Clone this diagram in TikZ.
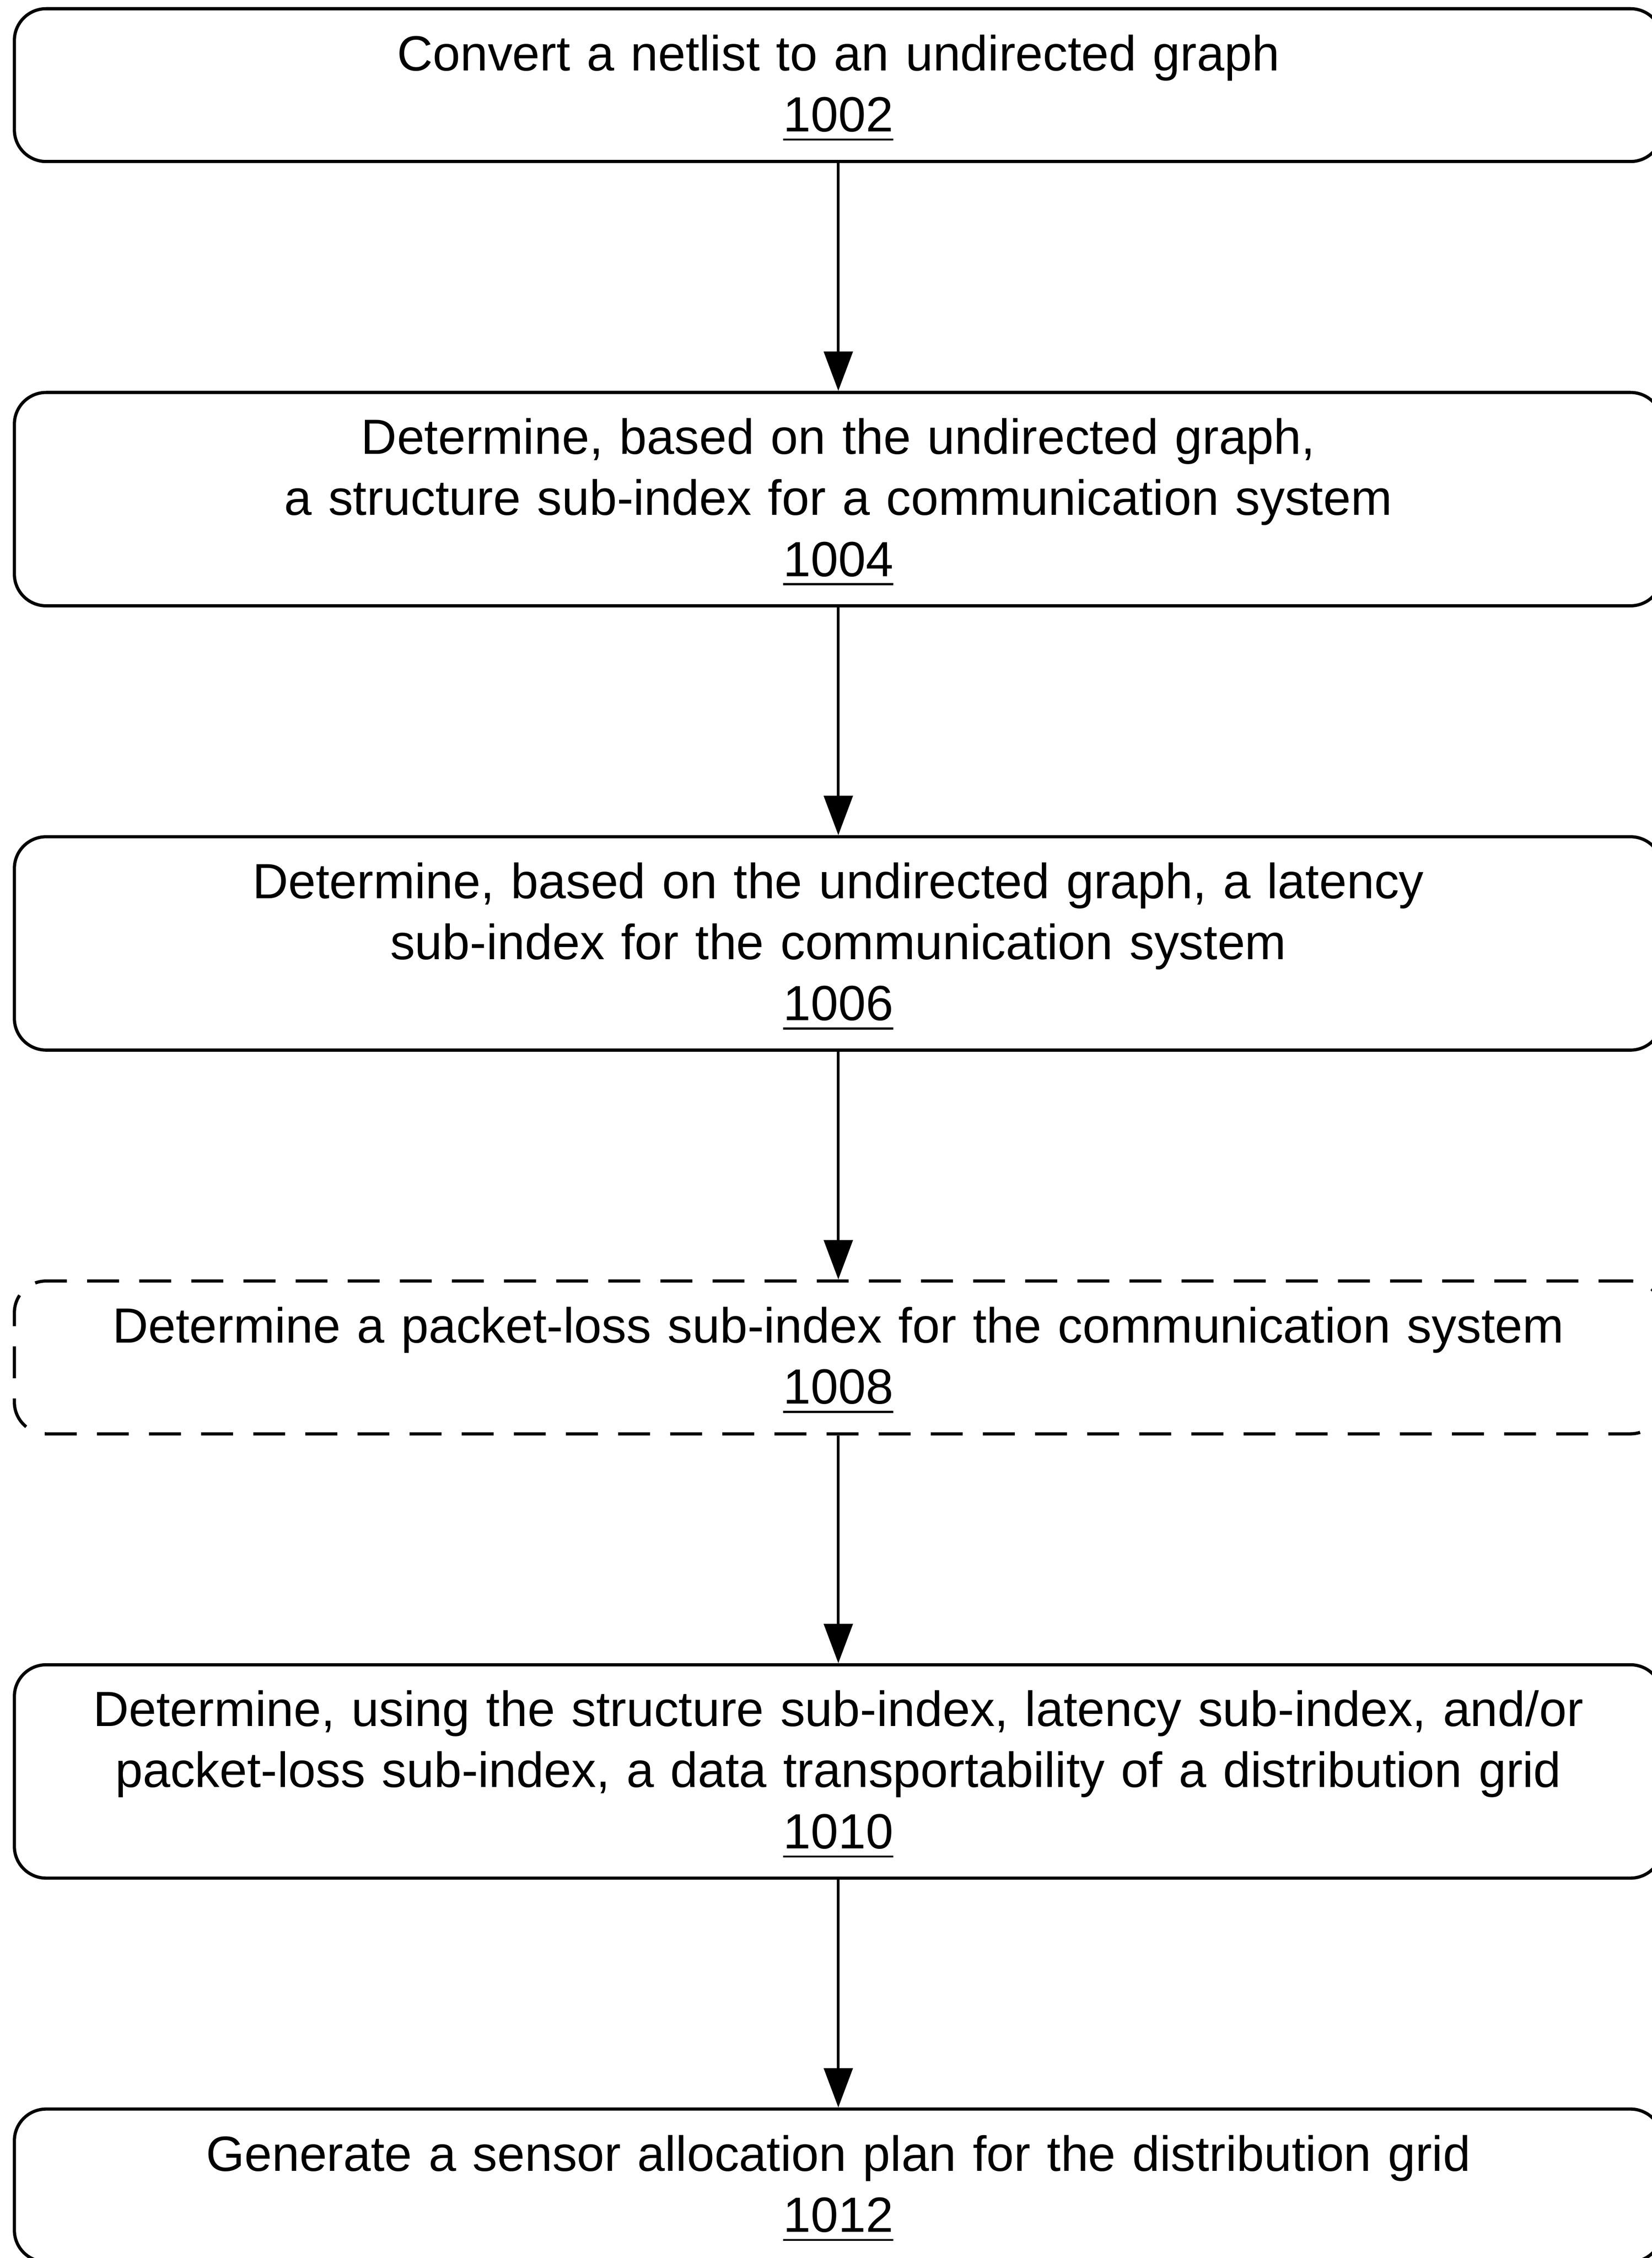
\documentclass[tikz,border=0pt]{standalone}
\usepackage{fontspec}
\setmainfont{Liberation Sans}
\usetikzlibrary{positioning,arrows.meta}

\tikzset{
	stepbox/.style={draw, line width=0.6pt, rounded corners=0.21cm, minimum width=10.89cm, text width=10.5cm, align=center, inner sep=0pt, text height=8.1pt, font=\fontsize{9.3}{11.5}\selectfont},
	shortbox/.style={stepbox, minimum height=1.01cm},
	tallbox/.style={stepbox, minimum height=1.41cm},
	optbox/.style={shortbox, dash pattern=on 6pt off 3.8pt},
	flow/.style={line width=0.5pt, -{Triangle[width=0.19cm,length=0.26cm]}}
}

\begin{document}
\begin{tikzpicture}
	\useasboundingbox (0,0) rectangle (10.915,-14.9225);
	\node [shortbox] (convert) at (5.54,-0.5625) {Convert a netlist to an undirected graph\\\underline{1002}};
	\node [tallbox, below=1.505cm of convert] (structure) {Determine, based on the undirected graph,\\a structure sub-index for a communication system\\\underline{1004}};
	\node [tallbox, below=1.505cm of structure] (latency) {Determine, based on the undirected graph, a latency\\sub-index for the communication system\\\underline{1006}};
	\node [optbox, below=1.505cm of latency] (packetloss) {Determine a packet-loss sub-index for the communication system\\\underline{1008}};
	\node [tallbox, below=1.505cm of packetloss] (transport) {Determine, using the structure sub-index, latency sub-index, and/or\\packet-loss sub-index, a data transportability of a distribution grid\\\underline{1010}};
	\node [shortbox, below=1.505cm of transport] (allocation) {Generate a sensor allocation plan for the distribution grid\\\underline{1012}};

	\draw [flow] (convert) -- (structure);
	\draw [flow] (structure) -- (latency);
	\draw [flow] (latency) -- (packetloss);
	\draw [flow] (packetloss) -- (transport);
	\draw [flow] (transport) -- (allocation);
\end{tikzpicture}
\end{document}
